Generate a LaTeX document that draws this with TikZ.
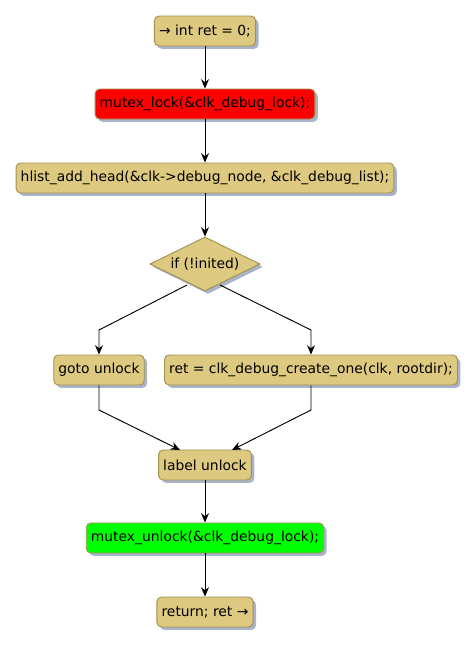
\documentclass[tikz,border=0pt]{standalone}
\usepackage{fontspec}
\setmainfont{DejaVu Sans}
\usetikzlibrary{shapes.geometric,arrows.meta,shadows}
\definecolor{boxfill}{HTML}{DDC97F}
\definecolor{boxline}{HTML}{A3904F}
\definecolor{shade}{HTML}{A9B4CC}
\begin{document}
\begin{tikzpicture}[x=0.75pt,y=-0.75pt,
  act/.style={draw=boxline,fill=boxfill,rounded corners=3.5pt,line width=0.7pt,
    minimum height=22.5pt,inner xsep=3.5pt,font=\fontsize{10.4}{12}\selectfont,
    drop shadow={shadow xshift=2.2pt,shadow yshift=-2.2pt,fill=shade,opacity=1}},
  dec/.style={draw=boxline,fill=boxfill,diamond,aspect=2,inner sep=0.5pt,line width=0.7pt,
    minimum width=82.5pt,minimum height=40.5pt,font=\fontsize{10.4}{12}\selectfont,
    drop shadow={shadow xshift=2.2pt,shadow yshift=-2.2pt,fill=shade,opacity=1}},
  conn/.style={line width=0.7pt,-{Stealth[length=7pt,width=6pt]}},
  plain/.style={line width=0.7pt}]
\useasboundingbox (0,0) rectangle (474,646);
\node[act] (n1) at (205,31) {→ int ret = 0;};
\node[act,fill=red] (n2) at (205,104) {mutex\_lock(\&clk\_debug\_lock);};
\node[act] (n3) at (205,178) {hlist\_add\_head(\&clk->debug\_node, \&clk\_debug\_list);};
\node[dec] (d) at (205,264) {if (!inited)};
\node[act] (g) at (99,370) {goto unlock};
\node[act] (r) at (311,370) {ret = clk\_debug\_create\_one(clk, rootdir);};
\node[act] (l) at (205,465) {label unlock};
\node[act,fill=green] (u) at (205,538) {mutex\_unlock(\&clk\_debug\_lock);};
\node[act] (e) at (205,612) {return; ret →};
\coordinate (dl) at (187,285);
\coordinate (dr) at (220,285);
\coordinate (gl) at (99,330);
\coordinate (rr) at (311,330);
\coordinate (gb) at (99,410);
\coordinate (rb) at (311,410);
\coordinate (lt1) at (180,450);
\coordinate (lt2) at (232,450);
\draw[conn] (n1.south) -- (n2.north);
\draw[conn] (n2.south) -- (n3.north);
\draw[conn] (n3.south) -- (d.north);
\draw[conn] (dl) -- (gl) -- (g.north);
\draw[conn] (dr) -- (rr) -- (r.north);
\draw[conn] (g.south) -- (gb) -- (lt1);
\draw[conn] (r.south) -- (rb) -- (lt2);
\draw[conn] (l.south) -- (u.north);
\draw[conn] (u.south) -- (e.north);
\end{tikzpicture}
\end{document}
